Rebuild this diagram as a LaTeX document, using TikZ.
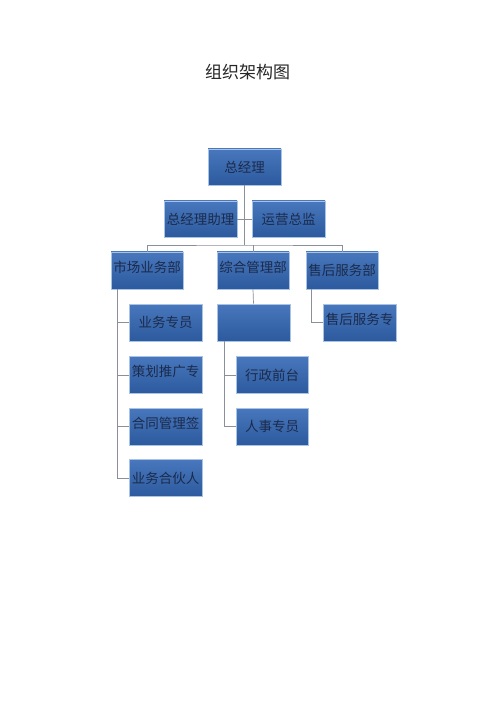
\documentclass[tikz,border=0pt]{standalone}
\usepackage{fontspec}
\newfontfamily\cjk{Noto Sans CJK SC}
\definecolor{boxtop}{HTML}{4877BD}
\definecolor{boxbot}{HTML}{2D5A9E}
\definecolor{boxline}{HTML}{A9C3E3}
\definecolor{boxtext}{HTML}{1B2B4C}
\definecolor{linkgray}{HTML}{8A8F99}
\tikzset{box/.style={rectangle, draw=boxline, line width=0.6pt, top color=boxtop, bottom color=boxbot,
		minimum width=73pt, minimum height=37pt, inner sep=1pt, text=boxtext,
		font=\cjk\fontsize{13.5}{14}\selectfont},
	raised/.style={text depth=8pt},
	link/.style={draw=linkgray, line width=0.7pt}}

\begin{document}
\begin{tikzpicture}[x=1pt,y=-1pt]
			\useasboundingbox[fill=white] (0,0) rectangle (500,708);
			
			% Title
			\node[font=\cjk\fontsize{17}{18}\selectfont, text=black!85] (T) at (247.5,72.5) {组织架构图};
			
			% Top levels
			\node[box, minimum height=36pt] (GM) at (244.5,167) {总经理};
			\node[box, minimum height=36pt] (AS) at (200.5,219) {总经理助理};
			\node[box, minimum height=36pt] (OP) at (288.5,219) {运营总监};
			
			% Departments
			\node[box, raised, minimum width=72pt] (MK) at (147,270.5) {市场业务部};
			\node[box, raised, minimum width=72pt] (AD) at (253,270.5) {综合管理部};
			\node[box, minimum width=72pt] (SV) at (342,270.5) {售后服务部};
			
			% Staff under departments
			\node[box] (M1) at (165.5,322.5) {业务专员};
			\node[box, raised] (M2) at (165.5,375) {策划推广专};
			\node[box, raised] (M3) at (165.5,426.5) {合同管理签};
			\node[box] (M4) at (165.5,478) {业务合伙人};
			
			\node[box] (A0) at (253.5,322.5) {};
			\node[box, minimum width=72pt] (A1) at (272,375) {行政前台};
			\node[box, minimum width=72pt] (A2) at (272,426.5) {人事专员};
			
			\node[box, raised] (S1) at (359.5,322.5) {售后服务专};
			
			% Edges
			\coordinate (BUS) at (244.5,245);
			\draw[link] (GM.south) -- (BUS);
			\draw[link] (AS.east) -- (OP.west);
			\draw[link] (MK.north) |- (BUS) -| (SV.north);
			\draw[link] (AD.north) -- (AD.north |- BUS);
			
			\foreach \n in {M1,M2,M3,M4}
				\draw[link] ([xshift=7pt]MK.south west) |- (\n.west);
			
			\draw[link] (AD.south) -- (A0.north);
			\foreach \n in {A1,A2}
				\draw[link] ([xshift=8pt]A0.south west) |- (\n.west);
			
			\draw[link] ([xshift=6pt]SV.south west) |- (S1.west);
		\end{tikzpicture}
\end{document}
